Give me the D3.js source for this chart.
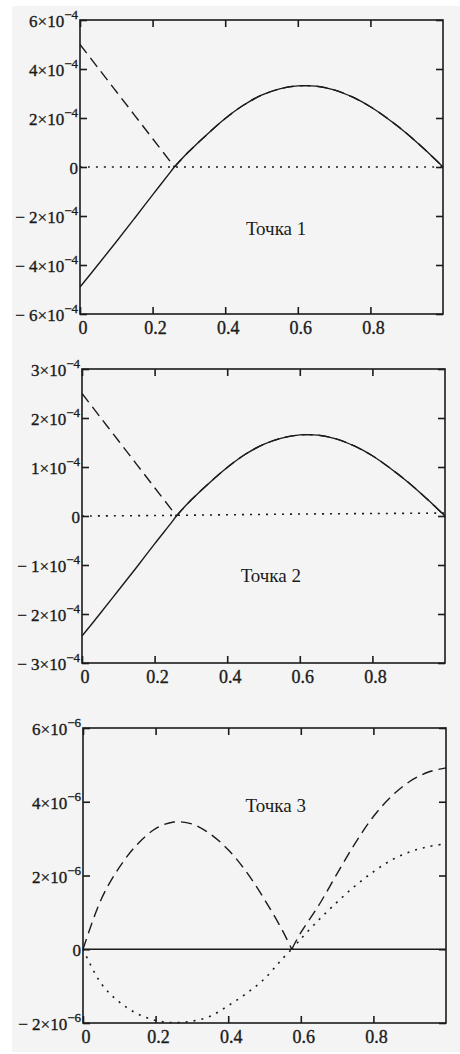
<!DOCTYPE html>
<html>
<head>
<meta charset="utf-8">
<script src="https://cdn.jsdelivr.net/npm/d3@7/dist/d3.min.js"></script>
<style>
  html, body { margin: 0; padding: 0; background: #ffffff; }
  svg { display: block; }
  text { font-family: "Liberation Serif", "DejaVu Serif", serif; }
  .tickLabel { stroke: #1b1b1b; stroke-width: 0.35px; }
</style>
</head>
<body>
<script>
// ---- data -------------------------------------------------------------
const xTicks = [0, 0.2, 0.4, 0.6, 0.8];
const xTickLabels = ["0", "0.2", "0.4", "0.6", "0.8"];

// Точка 1 (values in units of 1e-4)
const p1X      = [0, 0.05, 0.1, 0.15, 0.2, 0.25, 0.26, 0.3, 0.35, 0.4, 0.45, 0.5, 0.55, 0.6, 0.65, 0.7, 0.75, 0.8, 0.85, 0.9, 0.95, 1];
const p1Solid  = [-4.9, -3.98, -3.05, -2.1, -1.14, -0.19, 0, 0.63, 1.33, 1.98, 2.52, 2.93, 3.19, 3.31, 3.3, 3.15, 2.86, 2.46, 1.95, 1.37, 0.71, 0];
const p1Dashed = [5.0, 4.04, 3.08, 2.12, 1.16, 0.2, 0, 0.63, 1.33, 1.98, 2.52, 2.93, 3.19, 3.31, 3.3, 3.15, 2.86, 2.46, 1.95, 1.37, 0.71, 0];
const p1DotX   = [0, 0.2, 0.4, 0.6, 0.8, 1];
const p1Dotted = [0, 0, 0, 0, 0, 0];
const p1YTicks = [-6, -4, -2, 0, 2, 4, 6];

// Точка 2 (values in units of 1e-4)
const p2X      = [0, 0.05, 0.1, 0.15, 0.2, 0.25, 0.26, 0.3, 0.35, 0.4, 0.45, 0.5, 0.55, 0.6, 0.65, 0.7, 0.75, 0.8, 0.85, 0.9, 0.95, 1];
const p2Solid  = [-2.45, -1.99, -1.52, -1.05, -0.57, -0.1, 0, 0.32, 0.67, 0.99, 1.26, 1.46, 1.59, 1.655, 1.65, 1.575, 1.43, 1.23, 0.97, 0.68, 0.35, 0];
const p2Dashed = [2.5, 2.02, 1.54, 1.06, 0.58, 0.1, 0, 0.32, 0.67, 0.99, 1.26, 1.46, 1.59, 1.655, 1.65, 1.575, 1.43, 1.23, 0.97, 0.68, 0.35, 0];
const p2DotX   = [0, 0.2, 0.4, 0.6, 0.8, 1];
const p2Dotted = [0, 0.01, 0.025, 0.04, 0.05, 0.06];
const p2YTicks = [-3, -2, -1, 0, 1, 2, 3];

// Точка 3 (values in units of 1e-6)
const p3X      = [0, 0.05, 0.1, 0.15, 0.2, 0.25, 0.3, 0.35, 0.4, 0.45, 0.5, 0.55, 0.575, 0.6, 0.65, 0.7, 0.75, 0.8, 0.85, 0.9, 0.95, 1];
const p3Dashed = [0, 1.35, 2.22, 2.85, 3.27, 3.45, 3.4, 3.13, 2.7, 2.1, 1.35, 0.5, 0, 0.45, 1.2, 2.05, 2.88, 3.6, 4.15, 4.55, 4.8, 4.92];
const p3Dotted = [0, -0.93, -1.43, -1.75, -1.93, -1.99, -1.95, -1.82, -1.53, -1.2, -0.8, -0.25, 0, 0.28, 0.8, 1.28, 1.72, 2.1, 2.42, 2.64, 2.78, 2.86];
const p3SolidX = [0, 1];
const p3Solid  = [0, 0];
const p3YTicks = [-2, 0, 2, 4, 6];

const panelTitles = ["Точка 1", "Точка 2", "Точка 3"];

// ---- layout -----------------------------------------------------------
const W = 460, H = 1054;
const ink = "#1b1b1b";

const zip = (xs, ys) => xs.map((x, i) => [x, ys[i]]);

const panels = [
  {
    frame: { left: 80, right: 443, top: 20, bottom: 314 },
    exp: -4, yMin: -6, yMax: 6, yTicks: p1YTicks,
    series: [
      { pts: zip(p1DotX, p1Dotted), style: "dot" },
      { pts: zip(p1X, p1Dashed), style: "dash", sharp: true },
      { pts: zip(p1X, p1Solid), style: "solid" }
    ],
    title: panelTitles[0], titleAt: [0.457, -2.78]
  },
  {
    frame: { left: 82, right: 445, top: 369, bottom: 663 },
    exp: -4, yMin: -3, yMax: 3, yTicks: p2YTicks,
    series: [
      { pts: zip(p2DotX, p2Dotted), style: "dot" },
      { pts: zip(p2X, p2Dashed), style: "dash", sharp: true },
      { pts: zip(p2X, p2Solid), style: "solid" }
    ],
    title: panelTitles[1], titleAt: [0.437, -1.35]
  },
  {
    frame: { left: 83, right: 446, top: 728, bottom: 1023 },
    exp: -6, yMin: -2, yMax: 6, yTicks: p3YTicks,
    series: [
      { pts: zip(p3X, p3Dotted), style: "dot", sharp: true },
      { pts: zip(p3X, p3Dashed), style: "dash", sharp: true },
      { pts: zip(p3SolidX, p3Solid), style: "solid" }
    ],
    title: panelTitles[2], titleAt: [0.448, 3.71]
  }
];

const svg = d3.select("body").append("svg")
  .attr("width", W).attr("height", H)
  .attr("viewBox", `0 0 ${W} ${H}`);

svg.append("rect").attr("x", 0).attr("y", 0).attr("width", W).attr("height", H).attr("fill", "#ffffff");
svg.append("rect").attr("x", 12).attr("y", 6).attr("width", W - 12).attr("height", H - 8).attr("fill", "#f4f4f4");

const dashStyle = { solid: null, dash: "11,6", dot: "2,6" };

// split a series at interior zero points so that V-shaped minima stay sharp
function splitAtZeros(pts) {
  const parts = [];
  let cur = [pts[0]];
  for (let i = 1; i < pts.length; i++) {
    cur.push(pts[i]);
    if (i < pts.length - 1 && pts[i][1] === 0) {
      parts.push(cur);
      cur = [pts[i]];
    }
  }
  parts.push(cur);
  return parts;
}

panels.forEach(p => {
  const f = p.frame;
  const unit = Math.pow(10, p.exp);
  const x = d3.scaleLinear().domain([0, 1]).range([f.left, f.right]);
  const y = d3.scaleLinear().domain([p.yMin * unit, p.yMax * unit]).range([f.bottom, f.top]);

  const g = svg.append("g");
  const tick = 7;

  // inward ticks on all four sides
  const axes = [
    { ax: d3.axisBottom(x).tickValues(xTicks), t: `translate(0,${f.bottom})` },
    { ax: d3.axisTop(x).tickValues(xTicks), t: `translate(0,${f.top})` },
    { ax: d3.axisLeft(y).tickValues(p.yTicks.map(v => v * unit)), t: `translate(${f.left},0)` },
    { ax: d3.axisRight(y).tickValues(p.yTicks.map(v => v * unit)), t: `translate(${f.right},0)` }
  ];
  axes.forEach(a => {
    const ag = g.append("g").attr("transform", a.t)
      .call(a.ax.tickSize(-tick).tickFormat("").tickSizeOuter(0));
    ag.select(".domain").remove();
    ag.selectAll("line").attr("stroke", ink).attr("stroke-width", 1.6);
  });

  // curves
  const line = d3.line()
    .x(d => x(d[0]))
    .y(d => y(d[1] * unit))
    .curve(d3.curveCatmullRom.alpha(0.5));

  p.series.forEach(s => {
    const parts = s.sharp ? splitAtZeros(s.pts) : [s.pts];
    const dStr = parts.map(pp => line(pp)).join("");
    g.append("path")
      .attr("d", dStr)
      .attr("fill", "none")
      .attr("stroke", ink)
      .attr("stroke-width", s.style === "dot" ? 1.6 : 1.4)
      .attr("stroke-dasharray", dashStyle[s.style]);
  });

  // frame
  g.append("rect")
    .attr("x", f.left).attr("y", f.top)
    .attr("width", f.right - f.left).attr("height", f.bottom - f.top)
    .attr("fill", "none").attr("stroke", ink).attr("stroke-width", 1.6);

  // x tick labels
  g.selectAll(".xl").data(xTicks).enter().append("text")
    .attr("class", "tickLabel")
    .attr("x", d => x(d) + 3)
    .attr("y", f.bottom + 20)
    .attr("text-anchor", "middle")
    .attr("font-size", 18)
    .attr("fill", ink)
    .text((d, i) => xTickLabels[i]);

  // y tick labels: mantissa×10 with superscript exponent
  p.yTicks.forEach(v => {
    const ty = y(v * unit);
    const t = g.append("text")
      .attr("class", "tickLabel")
      .attr("x", f.left - 2)
      .attr("y", ty + 7)
      .attr("text-anchor", "end")
      .attr("font-size", 17)
      .attr("fill", ink);
    if (v === 0) {
      t.text("0");
      return;
    }
    const sign = v < 0 ? "\u2212 " : "";
    t.append("tspan").text(`${sign}${Math.abs(v)}\u00d710`);
    t.append("tspan")
      .attr("dy", -8)
      .attr("font-size", 13)
      .text(`\u2212${Math.abs(p.exp)}`);
  });

  // panel caption
  g.append("text")
    .attr("x", x(p.titleAt[0]))
    .attr("y", y(p.titleAt[1] * unit))
    .attr("font-size", 19)
    .attr("fill", ink)
    .text(p.title);
});
</script>
</body>
</html>
